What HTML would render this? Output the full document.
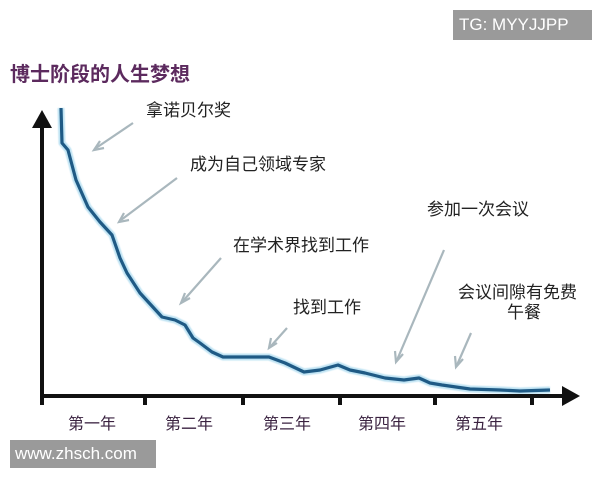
<!DOCTYPE html>
<html><head><meta charset="utf-8"><style>
html,body{margin:0;padding:0;background:#fff;}
body{width:600px;height:480px;position:relative;overflow:hidden;font-family:"Liberation Sans","Noto Sans CJK SC",sans-serif;}
.t{position:absolute;white-space:nowrap;color:#222;font-family:"Noto Sans CJK SC",sans-serif;}
.box{position:absolute;background:#9a9a9a;color:#fff;font-family:"Liberation Sans",sans-serif;}
</style></head><body>
<svg width="600" height="480" style="position:absolute;left:0;top:0">
<defs><filter id="b"><feGaussianBlur stdDeviation="0.6"/></filter></defs>
<g stroke="#a9b7bd" stroke-width="2.2" fill="none">
<line x1="133" y1="123" x2="96" y2="148"/><polyline points="100,141 94,150 104,148"/>
<line x1="177" y1="178" x2="121" y2="220"/><polyline points="124,213 119,222 129,220"/>
<line x1="221" y1="258" x2="183" y2="301"/><polyline points="185,293 181,303 190,298"/>
<line x1="287" y1="328" x2="271" y2="346"/><polyline points="271,338 269,348 277,343"/>
<line x1="444" y1="250" x2="397" y2="360"/><polyline points="395,351 396,362 403,354"/>
<line x1="471" y1="333" x2="457" y2="365"/><polyline points="455,356 456,367 463,359"/>
</g>
<path d="M61,108 L62,143 L68,150 L76,180 L88,207 L100,222 L112,235 L120,258 L127,273 L140,293 L162,317 L175,320 L185,325 L193,338 L200,343 L212,352 L223,357 L250,357 L269,357 L285,363 L304,372 L320,370 L338,365 L350,370 L365,373 L385,378 L404,380 L419,378 L430,383 L442,385 L470,389 L500,390 L520,391 L550,390" fill="none" stroke="#bfe3f3" stroke-width="7" stroke-linejoin="round" filter="url(#b)"/>
<path d="M61,108 L62,143 L68,150 L76,180 L88,207 L100,222 L112,235 L120,258 L127,273 L140,293 L162,317 L175,320 L185,325 L193,338 L200,343 L212,352 L223,357 L250,357 L269,357 L285,363 L304,372 L320,370 L338,365 L350,370 L365,373 L385,378 L404,380 L419,378 L430,383 L442,385 L470,389 L500,390 L520,391 L550,390" fill="none" stroke="#1f5a85" stroke-width="3.2" stroke-linejoin="round"/>
<g stroke="#111" stroke-width="4" fill="none">
<line x1="42" y1="397" x2="42" y2="120"/>
<line x1="40" y1="396" x2="572" y2="396"/>
<line x1="145" y1="396" x2="145" y2="405"/><line x1="243" y1="396" x2="243" y2="405"/>
<line x1="340" y1="396" x2="340" y2="405"/><line x1="435" y1="396" x2="435" y2="405"/>
<line x1="532" y1="396" x2="532" y2="405"/><line x1="42" y1="396" x2="42" y2="405"/>
</g>
<polygon points="42,110 32,128 52,128" fill="#111"/>
<polygon points="580,396 562,386 562,406" fill="#111"/>
</svg>
<div class="t" style="left:10px;top:58px;font-size:20px;font-weight:bold;color:#5c2a5e">博士阶段的人生梦想</div>
<div class="t" style="left:146px;top:96px;font-size:17px">拿诺贝尔奖</div>
<div class="t" style="left:190px;top:150px;font-size:17px">成为自己领域专家</div>
<div class="t" style="left:427px;top:195px;font-size:17px">参加一次会议</div>
<div class="t" style="left:233px;top:231px;font-size:17px">在学术界找到工作</div>
<div class="t" style="left:293px;top:293px;font-size:17px">找到工作</div>
<div class="t" style="left:458px;top:278px;font-size:17px">会议间隙有免费</div>
<div class="t" style="left:507px;top:298px;font-size:17px">午餐</div>
<div class="t" style="left:68px;top:410px;font-size:16px;color:#3a2240">第一年</div>
<div class="t" style="left:165px;top:410px;font-size:16px;color:#3a2240">第二年</div>
<div class="t" style="left:263px;top:410px;font-size:16px;color:#3a2240">第三年</div>
<div class="t" style="left:358px;top:410px;font-size:16px;color:#3a2240">第四年</div>
<div class="t" style="left:455px;top:410px;font-size:16px;color:#3a2240">第五年</div>
<div class="box" style="left:453px;top:10px;width:139px;height:30px;font-size:17px;line-height:30px;padding-left:6px;box-sizing:border-box">TG: MYYJJPP</div>
<div class="box" style="left:10px;top:440px;width:146px;height:28px;font-size:17px;line-height:28px;padding-left:5px;box-sizing:border-box">www.zhsch.com</div>
</body></html>
